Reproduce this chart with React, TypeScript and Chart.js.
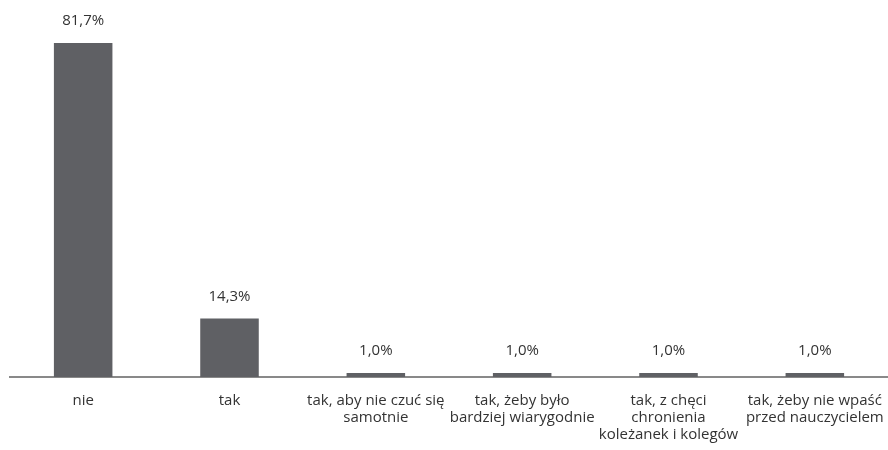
import React, { useEffect, useRef } from "react";
import { Chart, registerables } from "chart.js";

Chart.register(...registerables);

const categories: string[][] = [
  ["nie"],
  ["tak"],
  ["tak, aby nie czuć się", "samotnie"],
  ["tak, żeby było", "bardziej wiarygodnie"],
  ["tak, z chęci", "chronienia", "koleżanek i kolegów"],
  ["tak, żeby nie wpaść", "przed nauczycielem"],
];
const values: number[] = [81.7, 14.3, 1.0, 1.0, 1.0, 1.0];
const valueLabels: string[] = ["81,7%", "14,3%", "1,0%", "1,0%", "1,0%", "1,0%"];

const FONT = "'Open Sans', sans-serif";

const labelPlugin = {
  id: "valueLabels",
  afterDatasetsDraw(chart: any) {
    const ctx = chart.ctx;
    const meta = chart.getDatasetMeta(0);
    ctx.save();
    ctx.font = `15px ${FONT}`;
    ctx.fillStyle = "#333333";
    ctx.textAlign = "center";
    ctx.textBaseline = "middle";
    meta.data.forEach((bar: any, i: number) => {
      ctx.fillText(valueLabels[i], bar.x, bar.y - 22);
    });
    ctx.restore();
  },
};

export default function App() {
  const ref = useRef<HTMLCanvasElement>(null);
  useEffect(() => {
    if (!ref.current) return;
    const chart = new Chart(ref.current, {
      type: "bar",
      data: {
        labels: categories,
        datasets: [
          {
            data: values,
            backgroundColor: "#5f6064",
            categoryPercentage: 1,
            barPercentage: 0.4,
          },
        ],
      },
      options: {
        animation: false,
        responsive: false,
        maintainAspectRatio: false,
        layout: { padding: { left: 10, right: 0, top: 9, bottom: 0 } },
        plugins: { legend: { display: false }, tooltip: { enabled: false } },
        scales: {
          x: {
            grid: { display: false, drawTicks: false },
            border: { display: true, color: "#898989", width: 2 },
            ticks: {
              color: "#333333",
              font: { family: FONT, size: 15, lineHeight: 1.15 },
              padding: 15,
              maxRotation: 0,
              autoSkip: false,
            },
            afterFit: (axis: any) => {
              axis.height = 73;
              axis.paddingLeft = 0;
              axis.paddingRight = 0;
            },
          },
          y: {
            display: false,
            min: 0,
            max: 90,
          },
        },
      },
      plugins: [labelPlugin],
    });
    return () => chart.destroy();
  }, []);
  return (
    <div style={{ position: "fixed", left: 0, top: 0, width: 888, height: 450, background: "#fff" }}>
      <canvas ref={ref} width={888} height={450} style={{ display: "block" }} />
    </div>
  );
}
